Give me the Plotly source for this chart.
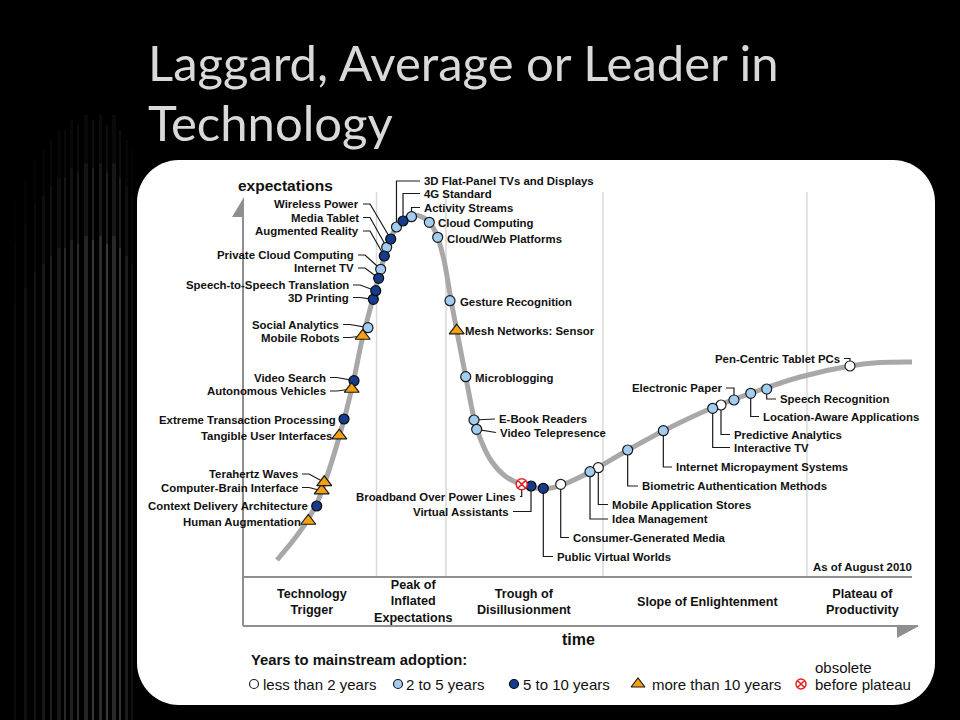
import plotly.graph_objects as go

# ---------------- data ----------------
tech_names = [
    "Human Augmentation", "Context Delivery Architecture", "Computer-Brain Interface", "Terahertz Waves",
    "Tangible User Interfaces", "Extreme Transaction Processing", "Autonomous Vehicles", "Video Search",
    "Mobile Robots", "Social Analytics", "3D Printing", "Speech-to-Speech Translation", "Internet TV",
    "Private Cloud Computing", "Augmented Reality", "Media Tablet", "Wireless Power",
    "3D Flat-Panel TVs and Displays", "4G Standard", "Activity Streams", "Cloud Computing",
    "Cloud/Web Platforms", "Gesture Recognition", "Mesh Networks: Sensor", "Microblogging",
    "E-Book Readers", "Video Telepresence", "Broadband Over Power Lines", "Virtual Assistants",
    "Public Virtual Worlds", "Consumer-Generated Media", "Idea Management", "Mobile Application Stores",
    "Biometric Authentication Methods", "Internet Micropayment Systems", "Interactive TV",
    "Predictive Analytics", "Electronic Paper", "Location-Aware Applications", "Speech Recognition",
    "Pen-Centric Tablet PCs"]
tech_time = [9.76, 11.02, 11.76, 12.15, 14.39, 15.10, 16.25, 16.59, 17.89, 18.68, 19.48, 19.84, 20.28,
             20.58, 21.12, 21.48, 22.08, 22.94, 23.92, 25.19, 27.85, 29.10, 30.94, 31.94, 33.29, 34.53,
             34.93, 41.66, 43.05, 44.89, 47.49, 51.87, 53.11, 57.50, 62.83, 70.21, 71.45, 73.39, 75.89,
             78.28, 90.73]
tech_expect = [14.66, 18.59, 22.59, 24.79, 36.99, 41.36, 49.21, 51.39, 63.09, 65.26, 72.70, 74.95, 78.19,
               80.55, 84.03, 86.31, 88.48, 91.62, 93.19, 94.32, 92.85, 88.93, 72.33, 64.48, 52.43, 41.10,
               38.66, 24.27, 23.82, 23.22, 24.27, 27.57, 28.61, 33.25, 38.30, 44.16, 45.03, 46.34, 48.09,
               49.21, 55.24]
tech_adoption = ["gt10", "5to10", "gt10", "gt10", "gt10", "5to10", "gt10", "5to10", "gt10", "2to5",
                 "5to10", "5to10", "5to10", "2to5", "5to10", "2to5", "5to10", "2to5", "5to10", "2to5",
                 "2to5", "2to5", "2to5", "gt10", "2to5", "2to5", "2to5", "obs", "5to10", "5to10",
                 "lt2", "2to5", "lt2", "2to5", "2to5", "2to5", "lt2", "2to5", "2to5", "2to5", "lt2"]

curve_time = [5.08, 7.32, 9.27, 10.91, 12.26, 14.50, 16.29, 17.79, 19.28, 20.48, 21.67, 22.87, 24.07,
              25.26, 26.46, 27.65, 28.85, 30.04, 31.09, 32.14, 33.33, 34.53, 35.73, 37.22, 39.16, 41.41,
              43.65, 45.59, 47.68, 51.87, 57.55, 63.08, 70.10, 77.28, 83.26, 90.73, 95.22, 100.0]
curve_expect = [4.45, 9.16, 13.87, 18.85, 24.87, 37.43, 49.48, 62.04, 71.99, 79.84, 86.91, 91.36, 93.72,
                94.63, 94.50, 93.19, 90.05, 82.98, 72.51, 62.83, 52.09, 41.62, 35.08, 30.10, 26.44, 24.35,
                23.30, 23.17, 24.08, 27.49, 33.25, 38.48, 44.24, 48.95, 52.36, 55.24, 56.15, 56.28]

phase_names = ["Technology<br>Trigger", "Peak of<br>Inflated<br>Expectations",
               "Trough of<br>Disillusionment", "Slope of Enlightenment", "Plateau of<br>Productivity"]
phase_bounds = [19.96, 30.34, 53.81, 84.30]
phase_label_time = [10.31, 25.41, 42.15, 69.36, 92.53]

adoption_keys = ["lt2", "2to5", "5to10", "gt10", "obs"]
adoption_labels = ["less than 2 years", "2 to 5 years", "5 to 10 years", "more than 10 years", "before plateau"]

# ---------------- layout helpers (pixel -> chart units) ----------------
X0, XS = 243.0, 6.69   # pixel of time 0, pixels per time unit
Y0, YS = 577.0, 3.82   # pixel of expectation 0, pixels per expectation unit


def X(px):
    return (px - X0) / XS


def Y(py):
    return (Y0 - py) / YS


def pt(px, py):
    return "%.3f,%.3f" % (X(px), Y(py))


STYLE = {
    "lt2": dict(symbol="circle", color="#ffffff", line=dict(color="#222222", width=1.2), size=10),
    "2to5": dict(symbol="circle", color="#a3cdf0", line=dict(color="#1a1a1a", width=1.2), size=10),
    "5to10": dict(symbol="circle", color="#163a8c", line=dict(color="#0a0a0a", width=1.2), size=10),
    "gt10": dict(symbol="triangle-up", color="#f5a10f", line=dict(color="#1a1a1a", width=1.2), size=13),
    "obs": dict(symbol="circle-x", color="#ffffff", line=dict(color="#e32222", width=1.5), size=11),
}

# label placement: side, pixel x (text edge), pixel y (centre), leader type
LABELS = {
    "Human Augmentation": ("r", 302, 521.5, None),
    "Context Delivery Architecture": ("r", 309, 506, None),
    "Computer-Brain Interface": ("r", 299, 487.5, "diag"),
    "Terahertz Waves": ("r", 299, 474, "diag"),
    "Tangible User Interfaces": ("r", 333, 436, None),
    "Extreme Transaction Processing": ("r", 337, 420, None),
    "Autonomous Vehicles": ("r", 327, 391, "diag"),
    "Video Search": ("r", 327, 377.5, "diag"),
    "Mobile Robots": ("r", 340, 337.5, "diag"),
    "Social Analytics": ("r", 340, 324.5, "diag"),
    "3D Printing": ("r", 350, 297.5, "diag"),
    "Speech-to-Speech Translation": ("r", 350, 285, "diag"),
    "Internet TV": ("r", 355, 268, "diag"),
    "Private Cloud Computing": ("r", 355, 255, "diag"),
    "Augmented Reality": ("r", 360, 231, "diag"),
    "Media Tablet": ("r", 360, 217.5, "diag"),
    "Wireless Power": ("r", 360, 204, "diag"),
    "3D Flat-Panel TVs and Displays": ("l", 423, 181, "elbow"),
    "4G Standard": ("l", 423, 193.5, "elbow"),
    "Activity Streams": ("l", 423, 207.5, "elbow"),
    "Cloud Computing": ("l", 437, 223, None),
    "Cloud/Web Platforms": ("l", 446, 238.5, None),
    "Gesture Recognition": ("l", 459, 302, None),
    "Mesh Networks: Sensor": ("l", 464, 331, None),
    "Microblogging": ("l", 474, 377.5, None),
    "E-Book Readers": ("l", 498, 419, "straight"),
    "Video Telepresence": ("l", 499, 432.5, "straight"),
    "Broadband Over Power Lines": ("r", 517, 496.5, "elbow"),
    "Virtual Assistants": ("r", 510, 511.5, "elbow"),
    "Public Virtual Worlds": ("l", 556, 556.5, "elbow"),
    "Consumer-Generated Media": ("l", 572, 537.5, "elbow"),
    "Idea Management": ("l", 611, 519, "elbow"),
    "Mobile Application Stores": ("l", 611, 504.5, "elbow"),
    "Biometric Authentication Methods": ("l", 641, 486, "elbow"),
    "Internet Micropayment Systems": ("l", 675, 467, "elbow"),
    "Interactive TV": ("l", 733, 447.5, "elbow"),
    "Predictive Analytics": ("l", 733, 434.5, "elbow"),
    "Electronic Paper": ("r", 723, 388, "elbow"),
    "Location-Aware Applications": ("l", 762, 416.5, "elbow"),
    "Speech Recognition": ("l", 779, 399, "elbow"),
    "Pen-Centric Tablet PCs": ("r", 841, 358.5, "elbow"),
}

LBL_FONT = "Liberation Sans, Arial, sans-serif"

fig = go.Figure()
shapes = []
annots = []

# ---- background texture on the left (decorative) ----
streaks = [(14, 2, 0.05, 200), (24, 3, 0.07, 180), (34, 2, 0.09, 160), (42, 3, 0.11, 150),
           (50, 2, 0.14, 140), (57, 4, 0.11, 130), (64, 2, 0.18, 130), (70, 3, 0.15, 120),
           (77, 2, 0.22, 125), (84, 4, 0.17, 115), (92, 2, 0.25, 120), (99, 3, 0.2, 115),
           (106, 2, 0.27, 125), (112, 4, 0.19, 115), (119, 2, 0.24, 130), (125, 3, 0.13, 140),
           (131, 2, 0.08, 150)]
fade = [(0.0, 0.08, 0.25), (0.08, 0.2, 0.55), (0.2, 1.0, 1.0)]
for sx, sw, op, top in streaks:
    span = 720 - top
    for f0, f1, m in fade:
        shapes.append(dict(type="rect", xref="x", yref="y", x0=X(sx), x1=X(sx + sw),
                           y0=Y(top + span * f0), y1=Y(top + span * f1),
                           fillcolor="rgba(215,215,215,%.3f)" % (op * m), line=dict(width=0), layer="below"))

# ---- white rounded panel ----
def rrect(x0, y0, x1, y1, r):
    k = 0.45
    return ("M " + pt(x0 + r, y0) + " L " + pt(x1 - r, y0) +
            " C " + pt(x1 - r * k, y0) + " " + pt(x1, y0 + r * k) + " " + pt(x1, y0 + r) +
            " L " + pt(x1, y1 - r) +
            " C " + pt(x1, y1 - r * k) + " " + pt(x1 - r * k, y1) + " " + pt(x1 - r, y1) +
            " L " + pt(x0 + r, y1) +
            " C " + pt(x0 + r * k, y1) + " " + pt(x0, y1 - r * k) + " " + pt(x0, y1 - r) +
            " L " + pt(x0, y0 + r) +
            " C " + pt(x0, y0 + r * k) + " " + pt(x0 + r * k, y0) + " " + pt(x0 + r, y0) + " Z")


shapes.append(dict(type="path", xref="x", yref="y", path=rrect(137, 160, 935, 705, 42),
                   fillcolor="#ffffff", line=dict(width=0), layer="below"))

# ---- phase boundary lines ----
for b in phase_bounds:
    shapes.append(dict(type="line", xref="x", yref="y", x0=b, x1=b, y0=Y(192), y1=0,
                       line=dict(color="#d9d9d9", width=1.5), layer="below"))

# ---- y axis with half arrow ----
shapes.append(dict(type="line", xref="x", yref="y", x0=0, x1=0, y0=Y(216), y1=Y(626),
                   line=dict(color="#8f8f8f", width=2), layer="below"))
shapes.append(dict(type="path", xref="x", yref="y",
                   path="M " + pt(244, 197) + " L " + pt(232, 217) + " L " + pt(244, 217) + " Z",
                   fillcolor="#8f8f8f", line=dict(width=0), layer="below"))
# ---- phase band / x axis ----
shapes.append(dict(type="line", xref="x", yref="y", x0=0, x1=X(912), y0=0, y1=0,
                   line=dict(color="#8f8f8f", width=2), layer="below"))
shapes.append(dict(type="line", xref="x", yref="y", x0=0, x1=X(918), y0=Y(626), y1=Y(626),
                   line=dict(color="#8f8f8f", width=2), layer="below"))
shapes.append(dict(type="path", xref="x", yref="y",
                   path="M " + pt(897, 626) + " L " + pt(919, 626) + " L " + pt(897, 638) + " Z",
                   fillcolor="#8f8f8f", line=dict(width=0), layer="below"))

# ---- leader lines ----
for name, t, e in zip(tech_names, tech_time, tech_expect):
    side, lx, ly, kind = LABELS[name]
    if kind is None:
        continue
    ex = lx + 3 if side == "r" else lx - 3
    if kind == "diag":
        path = "M " + pt(ex, ly) + " L " + pt(ex + 7, ly) + " L %.3f,%.3f" % (t, e)
    elif kind == "straight":
        path = "M " + pt(ex, ly) + " L %.3f,%.3f" % (t, e)
    else:
        path = "M " + pt(ex, ly) + " L %.3f,%.3f" % (t, Y(ly)) + " L %.3f,%.3f" % (t, e)
    shapes.append(dict(type="path", xref="x", yref="y", path=path,
                       line=dict(color="#1a1a1a", width=1.2), layer="below"))

# ---- hype curve ----
fig.add_trace(go.Scatter(x=curve_time, y=curve_expect, mode="lines",
                         line=dict(color="#a8a8a8", width=5, shape="spline", smoothing=0.8),
                         hoverinfo="skip", showlegend=False))

# ---- technology markers ----
for key in adoption_keys:
    xs = [t for t, a in zip(tech_time, tech_adoption) if a == key]
    ys = [e for e, a in zip(tech_expect, tech_adoption) if a == key]
    nm = [n for n, a in zip(tech_names, tech_adoption) if a == key]
    st = STYLE[key]
    fig.add_trace(go.Scatter(x=xs, y=ys, mode="markers", text=nm, hoverinfo="text",
                             marker=dict(symbol=st["symbol"], color=st["color"], size=st["size"],
                                         line=st["line"]), showlegend=False))

# ---- technology labels ----
for name in tech_names:
    side, lx, ly, kind = LABELS[name]
    annots.append(dict(x=X(lx), y=Y(ly), xref="x", yref="y", text="<b>%s</b>" % name, showarrow=False,
                       xanchor="right" if side == "r" else "left", yanchor="middle",
                       font=dict(family=LBL_FONT, size=11.4, color="#111111"), borderpad=0))

# ---- phase labels ----
for name, t in zip(phase_names, phase_label_time):
    annots.append(dict(x=t, y=Y(601.5), xref="x", yref="y", text="<b>%s</b>" % name, showarrow=False,
                       xanchor="center", yanchor="middle", align="center",
                       font=dict(family=LBL_FONT, size=12.6, color="#111111"), borderpad=0))

# ---- axis titles & notes ----
annots.append(dict(x=X(237), y=Y(185), xref="x", yref="y", text="<b>expectations</b>", showarrow=False,
                   xanchor="left", yanchor="middle", font=dict(family=LBL_FONT, size=15.5, color="#111"),
                   borderpad=0))
annots.append(dict(x=X(578), y=Y(639), xref="x", yref="y", text="<b>time</b>", showarrow=False,
                   xanchor="center", yanchor="middle", font=dict(family=LBL_FONT, size=16, color="#111"),
                   borderpad=0))
annots.append(dict(x=X(913), y=Y(567), xref="x", yref="y", text="<b>As of August 2010</b>",
                   showarrow=False, xanchor="right", yanchor="middle",
                   font=dict(family=LBL_FONT, size=11.4, color="#111"), borderpad=0))

# ---- adoption legend ----
annots.append(dict(x=X(250), y=Y(660), xref="x", yref="y", text="<b>Years to mainstream adoption:</b>",
                   showarrow=False, xanchor="left", yanchor="middle",
                   font=dict(family=LBL_FONT, size=14.8, color="#111"), borderpad=0))
key_px = [254, 398, 514, 638, 801]
txt_px = [262, 405, 522, 651, 814]
for key, lab, kx, tx in zip(adoption_keys, adoption_labels, key_px, txt_px):
    st = STYLE[key]
    fig.add_trace(go.Scatter(x=[X(kx)], y=[Y(684)], mode="markers", hoverinfo="skip", showlegend=False,
                             marker=dict(symbol=st["symbol"], color=st["color"],
                                         size=st["size"] - 1, line=st["line"])))
    annots.append(dict(x=X(tx), y=Y(684), xref="x", yref="y", text=lab, showarrow=False,
                       xanchor="left", yanchor="middle",
                       font=dict(family=LBL_FONT, size=15, color="#111"), borderpad=0))
annots.append(dict(x=X(814), y=Y(667), xref="x", yref="y", text="obsolete", showarrow=False,
                   xanchor="left", yanchor="middle", font=dict(family=LBL_FONT, size=15, color="#111"),
                   borderpad=0))

# ---- slide title ----
TITLE_FONT = dict(family="Lato, Open Sans, sans-serif", size=49, color="#d9d9d9")
annots.append(dict(x=X(146), y=Y(62), xref="x", yref="y", text="Laggard, Average or Leader in",
                   showarrow=False, xanchor="left", yanchor="middle", font=TITLE_FONT))
annots.append(dict(x=X(146), y=Y(122), xref="x", yref="y", text="Technology",
                   showarrow=False, xanchor="left", yanchor="middle", font=TITLE_FONT))

fig.update_layout(
    width=960, height=720, margin=dict(l=0, r=0, t=0, b=0),
    paper_bgcolor="#000000", plot_bgcolor="#000000",
    xaxis=dict(range=[X(0), X(960)], visible=False, fixedrange=True, domain=[0, 1]),
    yaxis=dict(range=[Y(720), Y(0)], visible=False, fixedrange=True, domain=[0, 1]),
    shapes=shapes, annotations=annots, showlegend=False,
)

fig.write_html("out.html", config={"displayModeBar": False},
               post_script="document.body.style.margin='0';document.body.style.background='#000';")
